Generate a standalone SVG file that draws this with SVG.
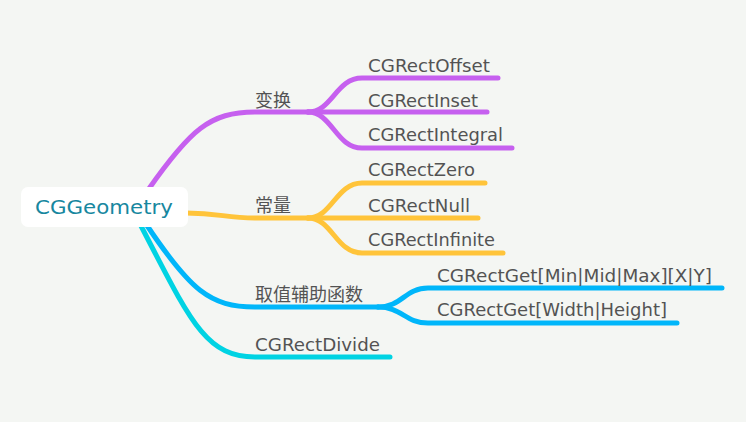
<svg xmlns="http://www.w3.org/2000/svg" width="746" height="422" viewBox="0 0 746 422">
<style>
.c{fill:none;stroke-width:5;stroke-linecap:round;stroke-linejoin:round}
.p{stroke:#c660ef}.y{stroke:#ffc43a}.b{stroke:#00b6fa}.cy{stroke:#00d3e3}
.t{font-family:"DejaVu Sans","Noto Sans CJK SC",sans-serif;font-size:17px;fill:#535353}
.h{font-family:"Noto Sans CJK SC","DejaVu Sans",sans-serif;font-size:18px;fill:#535353}
</style>
<rect width="746" height="422" fill="#f4f6f3"/>
<g id="connectors">
<path class="c p" d="M148,190 C190,130 210,112 255,112 L308,112"/>
<path class="c p" d="M308,112 C332,112 336,78 362,78 L498,78"/>
<path class="c p" d="M308,112 L487,112"/>
<path class="c p" d="M308,112 C332,112 336,148 362,148 L512,148"/>
<path class="c y" d="M186,213 C220,213 225,218 255,218 L308,218"/>
<path class="c y" d="M308,218 C332,218 336,183 362,183 L485,183"/>
<path class="c y" d="M308,218 L478,218"/>
<path class="c y" d="M308,218 C332,218 336,253 362,253 L503,253"/>
<path class="c cy" d="M140,224 C190,320 205,357 255,357 L390,357"/>
<path class="c b" d="M146,224 C190,290 210,307 255,307 L378,307"/>
<path class="c b" d="M378,307 C402,307 405,288 428,288 L722,288"/>
<path class="c b" d="M378,307 C402,307 405,323 428,323 L677,323"/>
</g>
<g id="root">
<rect x="21" y="187" width="167" height="40" rx="7" fill="#ffffff"/>
<text x="35" y="214" font-family="DejaVu Sans,sans-serif" font-size="20" fill="#17879f" textLength="138" lengthAdjust="spacingAndGlyphs">CGGeometry</text>
</g>
<g id="n-transform"><text class="h" x="255" y="107">变换</text></g>
<g id="n-offset"><text class="t" x="368" y="72" textLength="122" lengthAdjust="spacingAndGlyphs">CGRectOffset</text></g>
<g id="n-inset"><text class="t" x="368" y="107" textLength="110" lengthAdjust="spacingAndGlyphs">CGRectInset</text></g>
<g id="n-integral"><text class="t" x="368" y="141" textLength="135" lengthAdjust="spacingAndGlyphs">CGRectIntegral</text></g>
<g id="n-const"><text class="h" x="255" y="212">常量</text></g>
<g id="n-zero"><text class="t" x="368" y="176" textLength="107" lengthAdjust="spacingAndGlyphs">CGRectZero</text></g>
<g id="n-null"><text class="t" x="368" y="212" textLength="102" lengthAdjust="spacingAndGlyphs">CGRectNull</text></g>
<g id="n-infinite"><text class="t" x="368" y="246" textLength="127" lengthAdjust="spacingAndGlyphs">CGRectInfinite</text></g>
<g id="n-helpers"><text class="h" x="255" y="301">取值辅助函数</text></g>
<g id="n-minmax"><text class="t" x="437" y="282" textLength="275" lengthAdjust="spacingAndGlyphs">CGRectGet[Min|Mid|Max][X|Y]</text></g>
<g id="n-wh"><text class="t" x="437" y="316" textLength="230" lengthAdjust="spacingAndGlyphs">CGRectGet[Width|Height]</text></g>
<g id="n-divide"><text class="t" x="255" y="351" textLength="125" lengthAdjust="spacingAndGlyphs">CGRectDivide</text></g>
</svg>
